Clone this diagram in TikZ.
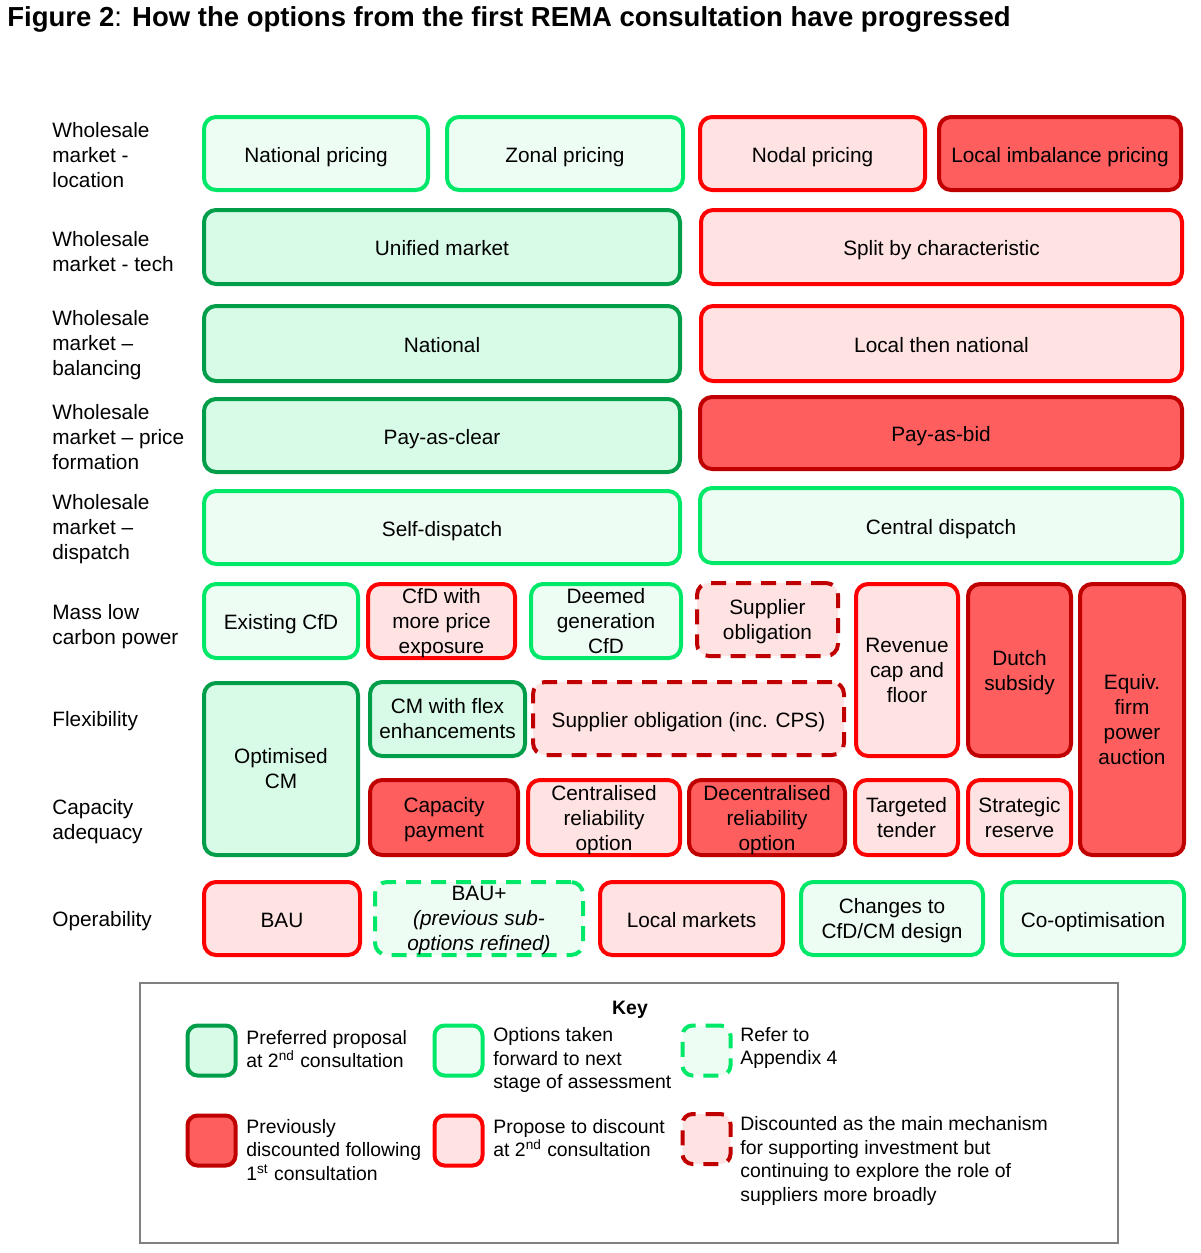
\documentclass[tikz,border=0pt]{standalone}
\usepackage{fontspec}
\setmainfont{Liberation Sans}
\definecolor{dkgreen}{RGB}{0,158,72}
\definecolor{ltgreenA}{RGB}{216,251,231}
\definecolor{brgreen}{RGB}{0,232,104}
\definecolor{ltgreenB}{RGB}{238,253,244}
\definecolor{dkred}{RGB}{192,0,0}
\definecolor{midred}{RGB}{255,94,94}
\definecolor{brred}{RGB}{255,0,0}
\definecolor{ltred}{RGB}{255,226,226}
\definecolor{keygray}{RGB}{128,128,128}
\newcommand\bxfont{\fontsize{10.4pt}{12.5pt}\selectfont}
\newcommand\keyfont{\fontsize{9.7pt}{11.75pt}\selectfont}
\newcommand\nod[1]{\raisebox{0pt}[\height][0pt]{#1}}
\newcommand\bx[7]{\node[#6, minimum width={(#4-#2)*0.5pt-2pt}, minimum height={(#5-#3)*0.5pt-2pt}] (#1) at ({(#2+#4)/2},{(#3+#5)/2}) {#7};}
\tikzset{
  base/.style={rounded corners=6pt, line width=2pt, align=center, inner sep=1pt, font=\bxfont},
  pref/.style={base, draw=dkgreen, fill=ltgreenA},
  fwd/.style={base, draw=brgreen, fill=ltgreenB},
  prevd/.style={base, draw=dkred, fill=midred},
  disc/.style={base, draw=brred, fill=ltred},
  apx/.style={base, draw=brgreen, fill=ltgreenB, dash pattern=on 7.5pt off 5pt},
  explr/.style={base, draw=dkred, fill=ltred, dash pattern=on 7.5pt off 5pt},
  sl/.style={text height=8.7pt, text depth=0pt},
  rowlab/.style={anchor=west, align=left, inner sep=0pt, font=\bxfont},
  keytxt/.style={anchor=west, align=left, inner sep=0pt, font=\keyfont},
  swatch/.style={minimum width=24pt, minimum height=25pt, rounded corners=5pt},
}
\begin{document}
\begin{tikzpicture}[x=0.5pt,y=-0.5pt]
\useasboundingbox (0,0) rectangle (1200,1253);

\node[anchor=west, inner sep=0pt, font=\fontsize{13.75pt}{16pt}\selectfont\bfseries] (title) at (7,19) {Figure 2{\mdseries:} How the options from the first REMA consultation have progressed};

% row labels
\node[rowlab] (l1) at (52,155) {Wholesale\\market -\\location};
\node[rowlab] (l2) at (52,252) {Wholesale\\market - tech};
\node[rowlab] (l3) at (52,345) {Wholesale\\market --\\balancing};
\node[rowlab] (l4) at (52,437) {Wholesale\\market -- price\\formation};
\node[rowlab] (l5) at (52,529) {Wholesale\\market --\\dispatch};
\node[rowlab] (l6) at (52,627) {Mass low\\carbon power};
\node[rowlab] (l7) at (52,721) {Flexibility};
\node[rowlab] (l8) at (52,822) {Capacity\\adequacy};
\node[rowlab] (l9) at (52,921) {Operability};

% row 1
\bx{natp}{202}{115}{430}{192}{fwd,sl}{National pricing}
\bx{zonp}{445}{115}{685}{192}{fwd,sl}{Zonal pricing}
\bx{nodp}{698}{115}{927}{192}{disc,sl}{Nodal pricing}
\bx{limp}{937}{115}{1183}{192}{prevd,sl}{Local imbalance pricing}
% row 2
\bx{unif}{202}{208}{682}{286}{pref,sl}{Unified market}
\bx{split}{699}{208}{1184}{286}{disc,sl}{Split by characteristic}
% row 3
\bx{natb}{202}{304}{682}{383}{pref,sl}{National}
\bx{locb}{699}{304}{1184}{383}{disc,sl}{Local then national}
% row 4
\bx{pac}{202}{397}{682}{474}{pref,sl}{Pay-as-clear}
\bx{pab}{698}{395}{1184}{471}{prevd,sl}{Pay-as-bid}
% row 5
\bx{selfd}{202}{489}{682}{566}{fwd,sl}{Self-dispatch}
\bx{centd}{698}{486}{1184}{565}{fwd,sl}{Central dispatch}
% row 6
\bx{ecfd}{202}{582}{360}{660}{fwd,sl}{Existing CfD}
\bx{cfdx}{366}{582}{517}{660}{disc}{CfD with\\more price\\\nod{exposure}}
\bx{dgcfd}{529}{582}{683}{660}{fwd}{Deemed\\generation\\CfD}
\bx{supo}{695}{581}{840}{658}{explr}{Supplier\\\nod{obligation}}
\bx{rcf}{854}{582}{960}{758}{disc}{Revenue\\cap and\\floor}
\bx{dutch}{966}{582}{1073}{758}{prevd}{Dutch\\\nod{subsidy}}
\bx{efpa}{1078}{582}{1186}{857}{prevd}{Equiv.\\firm\\power\\auction}
% row 7
\bx{ocm}{202}{681}{360}{857}{pref}{Optimised\\CM}
\bx{cmflex}{368}{680}{527}{758}{pref}{CM with flex\\enhancements}
\bx{supcps}{531}{680}{846}{757}{explr,sl}{Supplier obligation (inc. CPS)}
% row 8
\bx{cappay}{368}{778}{520}{857}{prevd}{Capacity\\\nod{payment}}
\bx{cro}{526}{778}{682}{857}{disc}{Centralised\\reliability\\\nod{option}}
\bx{dro}{687}{778}{847}{857}{prevd}{Decentralised\\reliability\\\nod{option}}
\bx{tten}{853}{778}{960}{857}{disc}{Targeted\\tender}
\bx{sres}{966}{778}{1073}{857}{disc}{Strategic\\reserve}
% row 9
\bx{bau}{202}{880}{362}{957}{disc,sl}{BAU}
\bx{bauplus}{373}{880}{585}{957}{apx}{BAU+\\\textit{(previous sub-}\\\nod{\textit{options refined)}}}
\bx{locm}{598}{880}{785}{957}{disc,sl}{Local markets}
\bx{chg}{799}{880}{985}{957}{fwd}{Changes to\\\nod{CfD/CM design}}
\bx{coopt}{1000}{880}{1186}{957}{fwd,sl}{Co-optimisation}

% key
\node[draw=keygray, line width=0.8pt, minimum width=489pt, minimum height=130pt, inner sep=0pt] (keybox) at (629,1113) {};
\node[inner sep=0pt, font=\keyfont\bfseries] (keytitle) at (630,1010) {Key};

\node[pref, swatch] (k1) at (211.5,1050.5) {};
\node[keytxt] (k1t) at (246,1049) {Preferred proposal\\at 2\textsuperscript{nd} consultation};
\node[fwd, swatch] (k2) at (458.5,1050.5) {};
\node[keytxt] (k2t) at (493,1060) {Options taken\\forward to next\\stage of assessment};
\node[apx, swatch] (k3) at (706.5,1050.5) {};
\node[keytxt] (k3t) at (740,1048) {Refer to\\Appendix 4};
\node[prevd, swatch] (k4) at (211.5,1140.5) {};
\node[keytxt] (k4t) at (246,1150) {Previously\\discounted following\\1\textsuperscript{st} consultation};
\node[disc, swatch] (k5) at (458.5,1140.5) {};
\node[keytxt] (k5t) at (493,1138) {Propose to discount\\at 2\textsuperscript{nd} consultation};
\node[explr, swatch] (k6) at (706.5,1139) {};
\node[keytxt] (k6t) at (740,1161) {Discounted as the main mechanism\\for supporting investment but\\continuing to explore the role of\\suppliers more broadly};
\end{tikzpicture}
\end{document}
